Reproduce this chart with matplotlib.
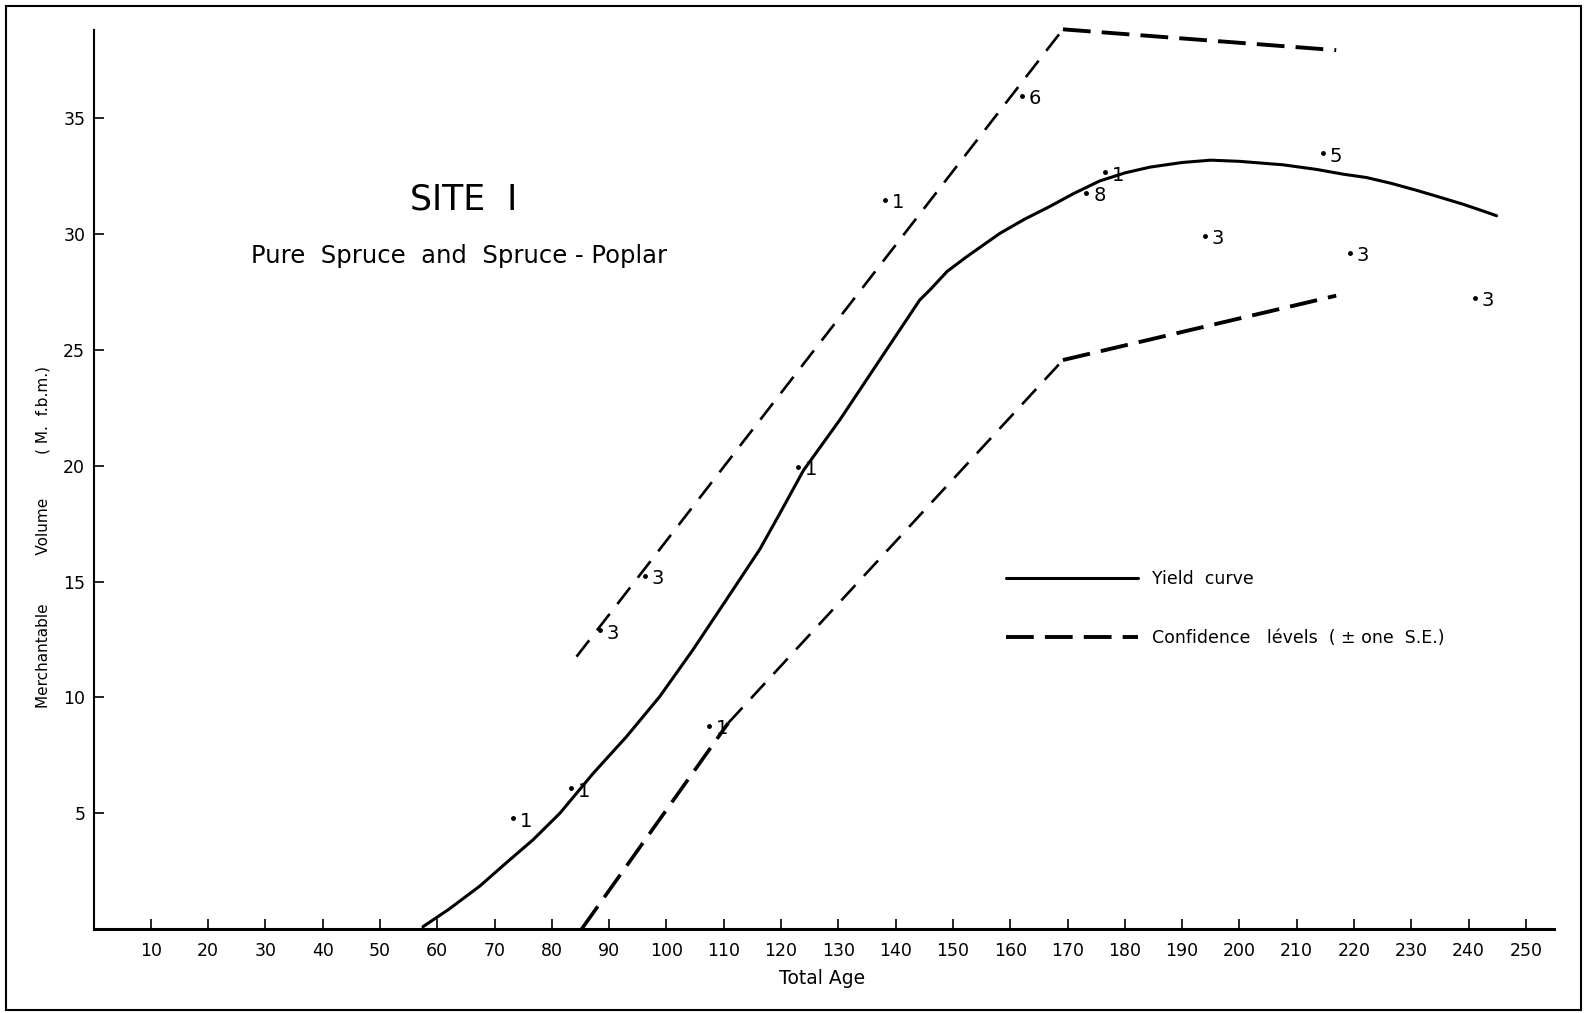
import matplotlib
matplotlib.use("Agg")
import matplotlib.pyplot as plt
from matplotlib.patches import Rectangle

plt.rcParams['font.family'] = ['DejaVu Sans']
plt.rcParams['lines.scale_dashes'] = False

# yield curve (age, M f.b.m.)
curve_age = [57.5, 62, 67.4, 72, 76.7, 81.4, 87.2, 93, 98.8, 104.6, 110.4, 116.3,
             119.8, 123.9, 130.3, 137.3, 144.2, 146, 149, 152.4, 158.2, 162.5,
             166.9, 171, 175.6, 180, 184.4, 190, 195, 200, 207.6, 213.5, 218,
             222.2, 226.5, 230.9, 235, 239, 242, 244.9]
curve_vol = [0.1, 0.85, 1.85, 2.85, 3.85, 5.0, 6.72, 8.3, 10.03, 12.05, 14.2, 16.4,
             17.95, 19.8, 22.0, 24.6, 27.16, 27.6, 28.4, 29.03, 30.04, 30.65,
             31.2, 31.75, 32.3, 32.65, 32.9, 33.1, 33.2, 33.15, 33.0, 32.8, 32.6,
             32.45, 32.2, 31.9, 31.6, 31.3, 31.05, 30.8]

# confidence levels (+/- one S.E.)
upper_age = [84.3, 169.2, 216.9]
upper_vol = [11.76, 38.85, 37.95]
lower_age = [85.2, 110.8, 169.2, 216.9]
lower_vol = [0.0, 8.9, 24.57, 27.35]

# plotted plots, with number of plots
pt_age = [73.2, 83.3, 88.4, 96.2, 107.4, 123.0, 138.1, 162.0, 173.3, 176.5, 194.0, 214.6, 219.3, 241.1]
pt_vol = [4.78, 6.07, 12.9, 15.24, 8.77, 19.96, 31.5, 35.97, 31.8, 32.67, 29.92, 33.49, 29.2, 27.26]
pt_n = ["1", "1", "3", "3", "1", "1", "1", "6", "8", "1", "3", "5", "3", "3"]

xticks = list(range(10, 251, 10))
yticks = [5, 10, 15, 20, 25, 30, 35]

fig = plt.figure(figsize=(15.88, 10.13), dpi=100)
ax = fig.add_axes([0.0589, 0.0829, 0.920, 0.887])

# frame round the sheet
fig.patches.append(Rectangle((0.0038, 0.003), 0.9918, 0.991, transform=fig.transFigure,
                             fill=False, lw=1.5, color='black'))

ax.plot(curve_age, curve_vol, color='black', lw=2.2, solid_capstyle='round',
        solid_joinstyle='round', label="Yield  curve", clip_on=False)

dash_thin = (15, 9)
dash_thick = (20, 8)
ax.plot(upper_age[:2], upper_vol[:2], color='black', lw=1.9, dashes=dash_thin, clip_on=False)
ax.plot(upper_age[1:], upper_vol[1:], color='black', lw=2.8, dashes=dash_thick, clip_on=False)
ax.plot(lower_age[:2], lower_vol[:2], color='black', lw=2.6, dashes=dash_thick, clip_on=False)
ax.plot(lower_age[1:3], lower_vol[1:3], color='black', lw=1.9, dashes=dash_thin, clip_on=False)
ax.plot(lower_age[2:], lower_vol[2:], color='black', lw=2.8, dashes=dash_thick, clip_on=False,
        label="Confidence   lévels  ( ± one  S.E.)")

ax.plot(pt_age, pt_vol, 'o', color='black', ms=2.5, ls='none')
for x, y, n in zip(pt_age, pt_vol, pt_n):
    ax.annotate(n, (x, y), xytext=(5, -2), textcoords='offset points',
                ha='left', va='center', fontsize=14)

ax.text(64.6, 31.5, "SITE  I", ha='center', va='center', fontsize=25)
ax.text(63.8, 29.05, "Pure  Spruce  and  Spruce - Poplar", ha='center', va='center', fontsize=17.5)

ax.set_xlim(0, 255)
ax.set_ylim(0, 38.8)
ax.set_xticks(xticks)
ax.set_yticks(yticks)
ax.tick_params(axis='both', direction='in', length=7, width=1.2, labelsize=12.5)
ax.tick_params(axis='x', pad=9)
ax.tick_params(axis='y', pad=6)
for s in ['top', 'right']:
    ax.spines[s].set_visible(False)
ax.spines['left'].set_linewidth(1.5)
ax.spines['bottom'].set_linewidth(2.2)

ax.legend(loc='upper left', bbox_to_anchor=(0.6245, 0.3996), frameon=False,
          fontsize=12.5, handlelength=7.6, handletextpad=0.8, labelspacing=2.35,
          borderpad=0, borderaxespad=0)

fig.text(0.5176, 0.0345, "Total Age", ha='center', va='center', fontsize=13.5)
fig.text(0.0268, 0.47, "Merchantable          Volume         ( M.  f.b.m.)", rotation=90,
         ha='center', va='center', fontsize=11)

plt.savefig("out.png", dpi=100)
